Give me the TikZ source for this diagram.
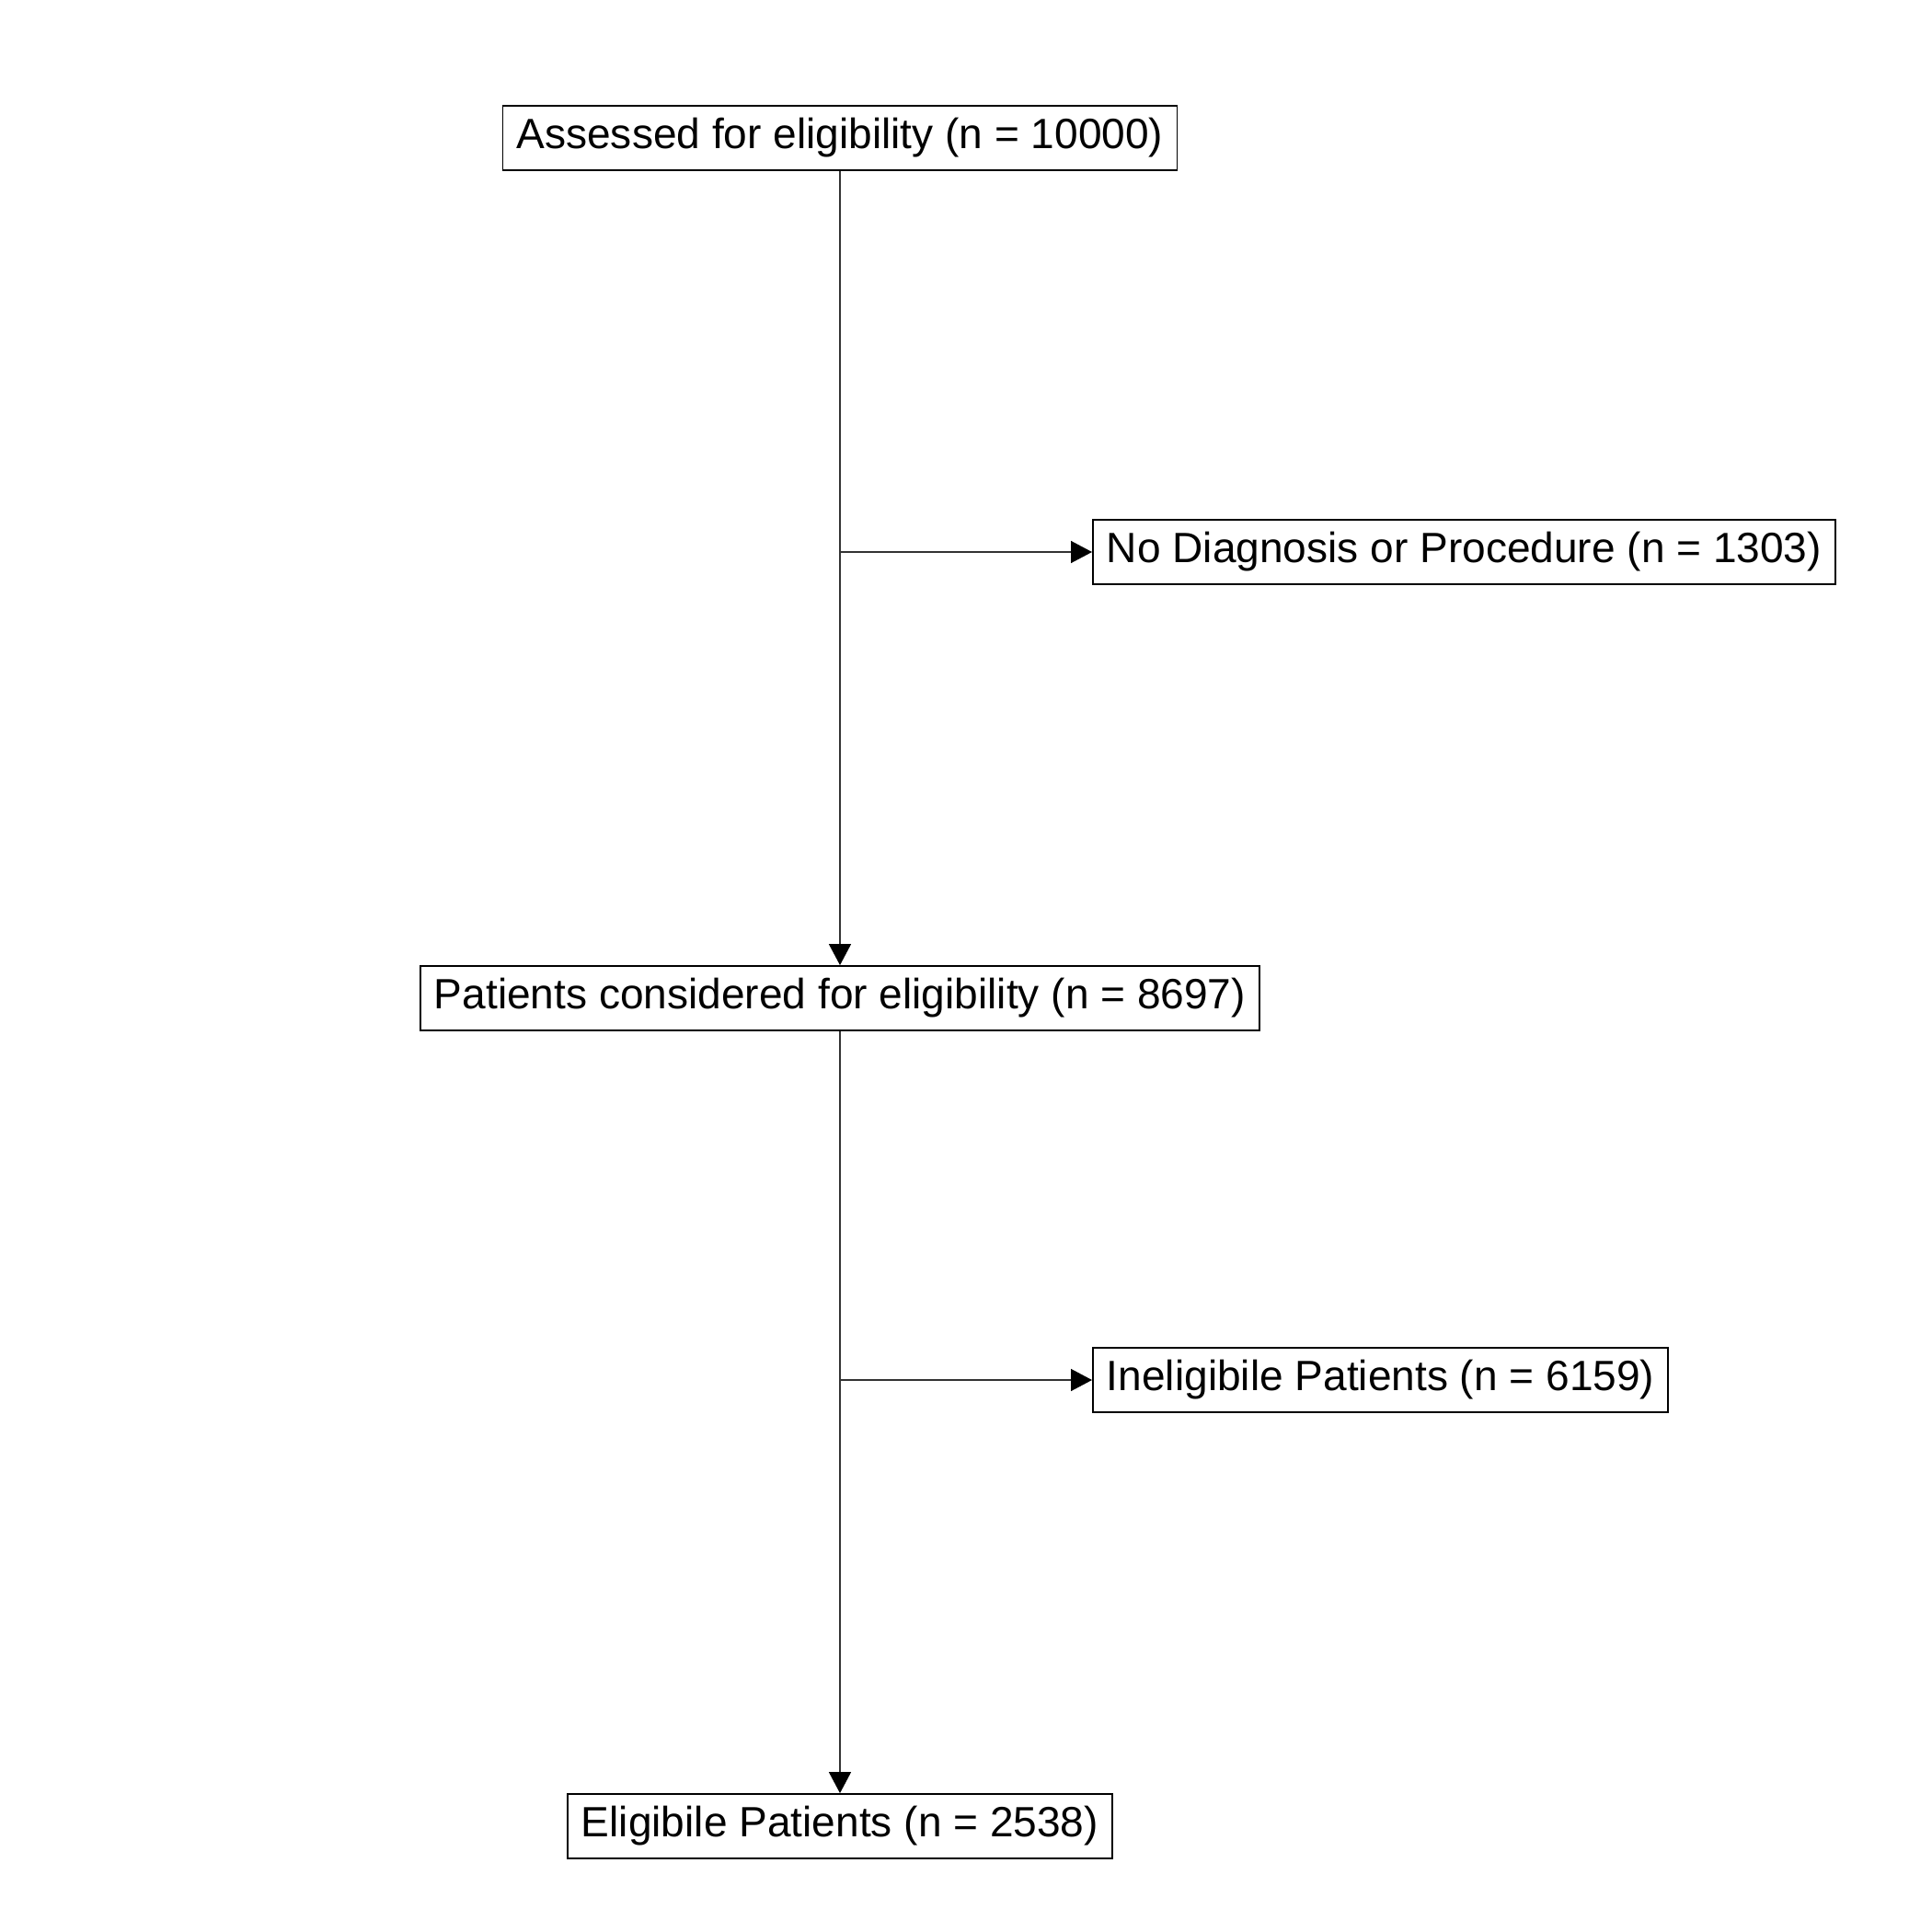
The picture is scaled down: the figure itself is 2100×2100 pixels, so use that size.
\documentclass[tikz,border=0pt]{standalone}
\usepackage{fontspec}
\setmainfont{Liberation Sans}
\usetikzlibrary{arrows.meta}
\begin{document}
\begin{tikzpicture}[x=0.01cm,y=-0.01cm,
  box/.style={draw, line width=0.5pt, inner xsep=0.15cm, inner ysep=0pt, minimum height=0.7cm, font=\fontsize{13.1}{15}\selectfont},
  conn/.style={draw=black!80, line width=0.4pt, -{Triangle[length=0.23cm,width=0.24cm,color=black]}},
  plain/.style={draw=black!80, line width=0.4pt}]
\useasboundingbox (0,0) rectangle (2100,2100);
\node[box] (a) at (913,150) {Assessed for eligibility (n = 10000)};
\node[box, anchor=west] (b) at (1187,600) {No Diagnosis or Procedure (n = 1303)};
\node[box] (c) at (913,1085) {Patients considered for eligibility (n = 8697)};
\node[box, anchor=west] (d) at (1187,1500) {Ineligibile Patients (n = 6159)};
\node[box] (e) at (913,1985) {Eligibile Patients (n = 2538)};
\draw[conn] (a) -- (c);
\draw[conn] (c) -- (e);
\draw[conn] (a.south |- b.west) -- (b.west);
\draw[conn] (c.south |- d.west) -- (d.west);
\end{tikzpicture}
\end{document}
